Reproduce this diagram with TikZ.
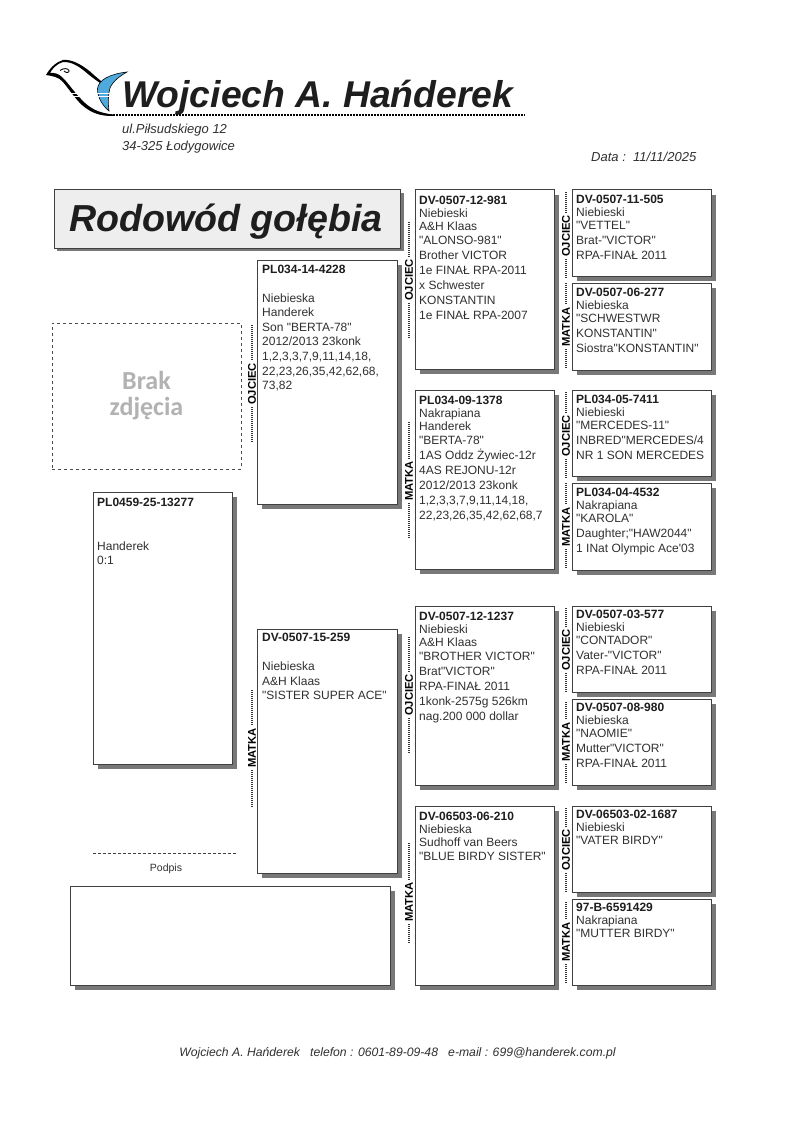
\documentclass[tikz,border=0pt]{standalone}
\usepackage{fontspec}
\newfontfamily\arialf{Liberation Sans}
\newfontfamily\brakf{Carlito}
\definecolor{edgec}{HTML}{404040}
\definecolor{shadowc}{HTML}{787878}
\definecolor{titlec}{HTML}{1E1E1E}
\definecolor{bodyc}{HTML}{303030}
\definecolor{panelc}{HTML}{EEEEEE}
\definecolor{wingc}{HTML}{4FA9DC}
\tikzset{
  cardbox/.style={draw=edgec,line width=1pt,fill=white,inner sep=0pt,outer sep=0pt},
  cardshadow/.style={fill=shadowc,draw=none},
  cardtext/.style={anchor=north west,inner sep=0pt,align=left,text=bodyc,font=\arialf\fontsize{12}{13.2}\selectfont},
  sexlabel/.style={rotate=90,inner sep=2pt,font=\arialf\bfseries\fontsize{11.2}{12}\selectfont,text=black},
  sexline/.style={line width=1.5pt,dash pattern=on 1.2pt off .8pt,black!80},
  plain/.style={inner sep=0pt,text=bodyc,font=\arialf\itshape\fontsize{13}{15}\selectfont},
}
% name, x1,y1,x2,y2, text x offset, text y offset, text
\newcommand{\pcard}[8]{%
  \pgfmathsetmacro{\cw}{#4-#2}\pgfmathsetmacro{\ch}{#5-#3}%
  \pgfmathsetmacro{\cx}{(#2+#4)/2}\pgfmathsetmacro{\cy}{(#3+#5)/2}%
  \fill[cardshadow] (#2+5,#3+5) rectangle (#4+4.5,#5+4.5);
  \node[cardbox,minimum width=\cw pt,minimum height=\ch pt] (#1) at (\cx,\cy) {};
  \node[cardtext] (#1t) at (#2+#6,#3+#7) {#8};
}
\newcommand{\ttl}[1]{{\bfseries\color{titlec}#1}}
\newcommand{\gp}{\\[1.8pt]}
\newcommand{\gq}{\\[1.4pt]}
% name, x, top, text centre, bottom, text
\newcommand{\sex}[6]{%
  \coordinate (#1a) at (#2,#3);
  \coordinate (#1b) at (#2,#5);
  \node[sexlabel] (#1) at (#2,#4) {#6};
  \draw[sexline] (#1a) -- (#1.east);
  \draw[sexline] (#1.west) -- (#1b);
}
\begin{document}
\begin{tikzpicture}[x=1pt,y=-1pt]
\useasboundingbox[fill=white] (0,0) rectangle (794,1123);
% ---- logo
\path[fill=black]
  (46,75) .. controls (50,68) and (56,62) .. (63,60)
  .. controls (72,59) and (82,65) .. (90,71.5)
  .. controls (95,76) and (100,80.5) .. (104,83)
  -- (103,84.5)
  .. controls (98,82) and (93,78) .. (88,74)
  .. controls (80,67) and (72,61.5) .. (63,62)
  .. controls (57,63.5) and (52,69) .. (50,73)
  .. controls (54,72.5) and (59,73.5) .. (63,78)
  .. controls (69,84) and (74,92) .. (81,99)
  .. controls (89,108) and (99,113.5) .. (114,114.5)
  -- (114,116)
  .. controls (99,116.5) and (88,112) .. (78,101)
  .. controls (72,94) and (68,88) .. (63,82)
  .. controls (59,77) and (52,76) .. (46,75) -- cycle;
\draw[line width=.9pt] (60,70.5) .. controls (63,68) and (68,68) .. (69,70.5) .. controls (70,72.5) and (66,73.5) .. (64,71);
\path[fill=wingc,draw=black,line width=.6pt]
  (127,72) .. controls (110,74) and (98,80) .. (97.5,89)
  .. controls (97.5,98) and (103,106) .. (109,111)
  .. controls (108,104) and (108,95) .. (110,88)
  .. controls (113,81) and (120,76) .. (127,72) -- cycle;
\draw[white,line width=1pt] (70,93.5) -- (112,93.5) (70,96.5) -- (112,96.5);
% ---- header
\node[anchor=base west,inner sep=0pt,text=titlec,font=\arialf\bfseries\itshape\fontsize{37.3}{40}\selectfont] (name) at (122,108) {Wojciech A. Hańderek};
\coordinate (ruleA) at (113,115); \coordinate (ruleB) at (525,115);
\draw[black,line width=1.5pt,dash pattern=on 2pt off 1pt] (ruleA) -- (ruleB);
\node[plain,anchor=base west] (addr1) at (122,134) {ul.Piłsudskiego 12};
\node[plain,anchor=base west] (addr2) at (122,151) {34-325 Łodygowice};
\node[plain,anchor=base west] (date) at (591,162) {Data :\ \ 11/11/2025};
% ---- title panel
\fill[shadowc] (57,193) rectangle (403.5,251);
\node[cardbox,fill=panelc,minimum width=346pt,minimum height=58pt] (panel) at (227,219) {};
\node[anchor=base west,inner sep=0pt,text=titlec,font=\arialf\bfseries\itshape\fontsize{37.6}{40}\selectfont] (paneltext) at (69,232) {Rodowód gołębia};
% ---- photo placeholder
\node[draw=black!70,dashed,line width=.7pt,minimum width=189pt,minimum height=146pt,inner sep=0pt] (photo) at (146.5,396) {};
\node[inner sep=0pt,align=center,text=black!30,font=\brakf\bfseries\fontsize{26}{26}\selectfont] (brak) at (146.5,396) {Brak\\zdjęcia};
% ---- cards
\pcard{root}{93}{492}{232}{764}{4}{5.5}{\ttl{PL0459-25-13277}\\[30.8pt]Handerek\gq 0:1}
\pcard{f}{257}{260}{397}{504}{5}{4.5}{\ttl{PL034-14-4228}\\[15.8pt]Niebieska\gq Handerek\gq Son "BERTA-78"\gq 2012/2013 23konk\gq 1,2,3,3,7,9,11,14,18,\gq 22,23,26,35,42,62,68,\gq 73,82}
\pcard{m}{257}{629}{397}{873}{5}{4}{\ttl{DV-0507-15-259}\\[15.8pt]Niebieska\gq A\&H Klaas\gq "SISTER SUPER ACE"}
\pcard{ff}{415}{190}{554}{369}{4}{6}{\ttl{DV-0507-12-981}\\Niebieski\\A\&H Klaas\\"ALONSO-981"\gp Brother VICTOR\gp 1e FINAŁ RPA-2011\gp x Schwester\gp KONSTANTIN\gp 1e FINAŁ RPA-2007}
\pcard{fm}{415}{390}{554}{569}{4}{6}{\ttl{PL034-09-1378}\\Nakrapiana\\Handerek\\"BERTA-78"\gp 1AS Oddz Żywiec-12r\gp 4AS REJONU-12r\gp 2012/2013 23konk\gp 1,2,3,3,7,9,11,14,18,\gp 22,23,26,35,42,62,68,7}
\pcard{mf}{415}{606}{554}{785}{4}{6}{\ttl{DV-0507-12-1237}\\Niebieski\\A\&H Klaas\\"BROTHER VICTOR"\gp Brat"VICTOR"\gp RPA-FINAŁ 2011\gp 1konk-2575g 526km\gp nag.200 000 dollar}
\pcard{mm}{415}{806}{554}{985}{4}{6}{\ttl{DV-06503-06-210}\\Niebieska\\Sudhoff van Beers\\"BLUE BIRDY SISTER"}
\pcard{fff}{572}{190}{711}{276}{4}{4.5}{\ttl{DV-0507-11-505}\\Niebieski\\"VETTEL"\gp Brat-"VICTOR"\gp RPA-FINAŁ 2011}
\pcard{ffm}{572}{283}{711}{370}{4}{4.5}{\ttl{DV-0507-06-277}\\Niebieska\\"SCHWESTWR\gp KONSTANTIN"\gp Siostra"KONSTANTIN"}
\pcard{fmf}{572}{390}{711}{476}{4}{4.5}{\ttl{PL034-05-7411}\\Niebieski\\"MERCEDES-11"\gp INBRED"MERCEDES/4\gp NR 1 SON MERCEDES}
\pcard{fmm}{572}{483}{711}{570}{4}{4.5}{\ttl{PL034-04-4532}\\Nakrapiana\\"KAROLA"\gp Daughter;"HAW2044"\gp 1 INat Olympic Ace'03}
\pcard{mff}{572}{606}{711}{692}{4}{3.5}{\ttl{DV-0507-03-577}\\Niebieski\\"CONTADOR"\gp Vater-"VICTOR"\gp RPA-FINAŁ 2011}
\pcard{mfm}{572}{699}{711}{785}{4}{3.5}{\ttl{DV-0507-08-980}\\Niebieska\\"NAOMIE"\gp Mutter"VICTOR"\gp RPA-FINAŁ 2011}
\pcard{mmf}{572}{806}{711}{892}{4}{3.5}{\ttl{DV-06503-02-1687}\\Niebieski\\"VATER BIRDY"}
\pcard{mmm}{572}{899}{711}{985}{4}{3.5}{\ttl{97-B-6591429}\\Nakrapiana\\"MUTTER BIRDY"}
% ---- signature
\coordinate (sigA) at (93,853); \coordinate (sigB) at (237,853);
\draw[black!75,line width=.8pt,dash pattern=on 3pt off 2pt] (sigA) -- (sigB);
\node[inner sep=0pt,text=bodyc,font=\arialf\fontsize{10.5}{12}\selectfont] (podpis) at (166,868.5) {Podpis};
\fill[shadowc] (75,891) rectangle (394.5,989.5);
\node[cardbox,minimum width=320pt,minimum height=99pt] (sigbox) at (230,936) {};
% ---- sex labels
\sex{s1}{252}{325}{384}{443}{OJCIEC}
\sex{s2}{252}{690}{748}{807}{MATKA}
\sex{s3}{409}{222}{280}{339}{OJCIEC}
\sex{s4}{409}{422}{481}{538}{MATKA}
\sex{s5}{409}{637}{695}{753}{OJCIEC}
\sex{s6}{409}{843}{902}{943}{MATKA}
\sex{s7}{566}{192}{236}{278}{OJCIEC}
\sex{s8}{566}{283}{327}{368}{MATKA}
\sex{s9}{566}{392}{436}{478}{OJCIEC}
\sex{s10}{566}{483}{527}{568}{MATKA}
\sex{s11}{566}{608}{650}{692}{OJCIEC}
\sex{s12}{566}{702}{742}{783}{MATKA}
\sex{s13}{566}{808}{850}{892}{OJCIEC}
\sex{s14}{566}{902}{942}{983}{MATKA}
% ---- footer
\node[plain,anchor=base,font=\arialf\itshape\fontsize{12.2}{14}\selectfont] (footer) at (397.5,1056) {Wojciech A. Hańderek\ \ \ telefon : 0601-89-09-48\ \ \ e-mail : 699@handerek.com.pl};
\end{tikzpicture}
\end{document}
